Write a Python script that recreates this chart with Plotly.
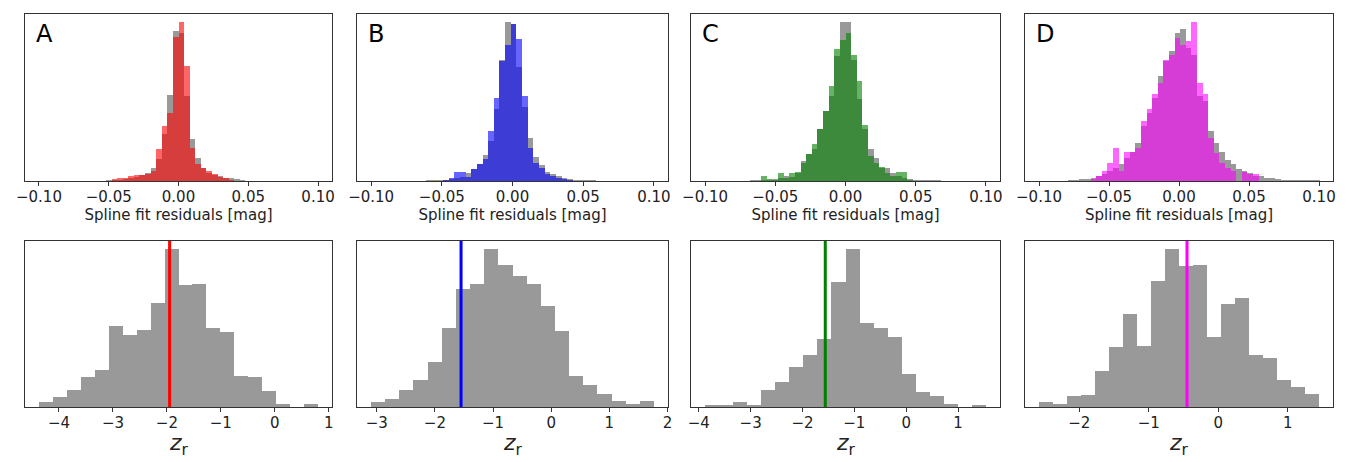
import numpy as np
import plotly.graph_objects as go

# panel letters and colours of each band
panels = ['A', 'B', 'C', 'D']
band_fill = ['rgba(255,0,0,0.6)', 'rgba(0,0,255,0.6)', 'rgba(0,128,0,0.6)', 'rgba(255,0,255,0.6)']
line_colors = ['#ff0000', '#0000ff', '#008000', '#ff00ff']
grey_fill = 'rgba(128,128,128,0.8)'

# spline fit residual histograms (bin width 0.004 mag), left edge of first bin
res_width = 0.004
res_start = [-0.052, -0.0612, -0.068, -0.0792]

res_grey_A = [2, 3, 4, 6, 10, 12, 18, 25, 40, 65, 140, 258, 452, 445, 255, 127, 70, 40, 25, 18, 14, 10, 8, 5, 3]
res_band_A = [0, 5, 10, 8, 15, 17, 18, 20, 30, 95, 165, 205, 432, 478, 345, 100, 50, 40, 30, 20, 12, 8, 3, 0, 0]

res_grey_B = [2, 3, 3, 4, 6, 10, 12, 25, 37, 52, 78, 120, 215, 362, 475, 470, 340, 220, 128, 72, 48, 28, 22, 15, 10, 6, 4, 3, 3, 2]
res_band_B = [0, 0, 0, 3, 10, 28, 28, 12, 37, 50, 65, 148, 248, 358, 405, 468, 423, 255, 100, 55, 40, 20, 15, 10, 5, 2, 0, 0, 0, 0]

res_grey_C = [2, 3, 3, 4, 5, 8, 15, 12, 25, 60, 80, 95, 155, 210, 255, 372, 475, 475, 360, 245, 155, 95, 70, 40, 40, 23, 15, 10, 6, 4, 3, 3, 2, 2]
res_band_C = [0, 0, 15, 5, 3, 25, 10, 25, 27, 55, 80, 110, 155, 208, 285, 395, 420, 442, 375, 298, 168, 75, 55, 42, 23, 15, 27, 27, 2, 0, 0, 0, 0, 0]

res_grey_D = [2, 3, 5, 7, 10, 15, 20, 30, 40, 50, 70, 87, 115, 165, 205, 250, 315, 360, 392, 445, 458, 400, 380, 255, 240,
              150, 115, 87, 62, 50, 37, 30, 23, 15, 15, 10, 8, 6, 4, 3, 3, 2, 2, 2, 2, 1, 1]
res_band_D = [0, 0, 0, 0, 5, 15, 30, 55, 100, 30, 87, 87, 100, 180, 215, 262, 295, 365, 380, 430, 410, 420, 478, 295, 262,
              130, 85, 55, 40, 30, 0, 28, 22, 20, 0, 0, 0, 0, 0, 0, 0, 0, 0, 0, 0, 0, 0]

res_grey = [res_grey_A, res_grey_B, res_grey_C, res_grey_D]
res_band = [res_band_A, res_band_B, res_band_C, res_band_D]
res_ticks = [-0.10, -0.05, 0.00, 0.05, 0.10]

# z_r histograms (20 bins each)
zr_start = [-4.37, -3.10, -3.88, -2.58]
zr_width = [0.2585, 0.2435, 0.271, 0.2015]
zr_counts_A = [15, 30, 50, 90, 110, 242, 217, 232, 312, 475, 367, 370, 237, 224, 94, 90, 48, 10, 0, 10]
zr_counts_B = [15, 25, 50, 80, 134, 237, 354, 370, 475, 427, 394, 370, 304, 227, 94, 65, 39, 17, 10, 17]
zr_counts_C = [5, 5, 15, 5, 52, 75, 119, 157, 204, 375, 475, 252, 237, 209, 99, 44, 34, 10, 0, 5]
zr_counts_D = [15, 9, 32, 37, 109, 180, 279, 184, 379, 475, 424, 427, 209, 309, 329, 157, 147, 82, 60, 39]
zr_counts = [zr_counts_A, zr_counts_B, zr_counts_C, zr_counts_D]
zr_marker = [-1.95, -1.55, -1.56, -0.45]
zr_range = [[-4.63, 1.06], [-3.34, 2.01], [-4.15, 1.81], [-2.78, 1.65]]

W, H = 1346, 462
col_px = [(17, 324), (349, 660), (683, 992), (1017, 1325)]
top_px = (6, 173)
bot_px = (233, 399)


def centers(start, width, n):
    return start + width * (np.arange(n) + 0.5)


def ax(k):
    return '' if k == 1 else str(k)


fig = go.Figure()
font = dict(family='DejaVu Sans', color='#222222')
layout = {}
frame = dict(showline=True, mirror=True, linecolor='#333333', linewidth=1.2,
             showgrid=False, zeroline=False)

for i, p in enumerate(panels):
    xt, yt = ax(i + 1), ax(i + 1)
    xb, yb = ax(i + 5), ax(i + 5)
    # top: residuals
    n = len(res_grey[i])
    xc = centers(res_start[i], res_width, n)
    fig.add_trace(go.Bar(x=xc, y=res_grey[i], width=res_width, marker=dict(color=grey_fill, line=dict(width=0)),
                         xaxis=f'x{xt}', yaxis=f'y{yt}', showlegend=False))
    fig.add_trace(go.Bar(x=xc, y=res_band[i], width=res_width, marker=dict(color=band_fill[i], line=dict(width=0)),
                         xaxis=f'x{xt}', yaxis=f'y{yt}', showlegend=False))
    ymax = max(max(res_grey[i]), max(res_band[i])) * 1.05
    # bottom: z_r
    m = len(zr_counts[i])
    zc = centers(zr_start[i], zr_width[i], m)
    fig.add_trace(go.Bar(x=zc, y=zr_counts[i], width=zr_width[i], marker=dict(color=grey_fill, line=dict(width=0)),
                         xaxis=f'x{xb}', yaxis=f'y{yb}', showlegend=False))
    fig.add_shape(type='line', xref=f'x{xb}', yref=f'y{yb} domain', x0=zr_marker[i], x1=zr_marker[i], y0=0, y1=1,
                  line=dict(color=line_colors[i], width=3))

    dom = [col_px[i][0] / W, col_px[i][1] / W]
    layout[f'xaxis{xt}'] = dict(domain=dom, anchor=f'y{yt}', range=[-0.11, 0.11], tickvals=res_ticks,
                                tickformat='.2f', ticks='outside', ticklen=4, tickcolor='#333333',
                                ticklabelstandoff=-2,
                                tickfont=dict(size=15, **font), automargin=False,
                                title=dict(text='Spline fit residuals [mag]', font=dict(size=15, **font), standoff=2),
                                **frame)
    layout[f'yaxis{yt}'] = dict(domain=[1 - top_px[1] / H, 1 - top_px[0] / H], anchor=f'x{xt}',
                                range=[0, ymax], showticklabels=False, ticks='', **frame)
    layout[f'xaxis{xb}'] = dict(domain=dom, anchor=f'y{yb}', range=zr_range[i], dtick=1,
                                ticks='outside', ticklen=4, tickcolor='#333333',
                                ticklabelstandoff=-2,
                                tickfont=dict(size=15, **font), automargin=False, **frame)
    layout[f'yaxis{yb}'] = dict(domain=[1 - bot_px[1] / H, 1 - bot_px[0] / H], anchor=f'x{xb}',
                                range=[0, max(zr_counts[i]) * 1.05], showticklabels=False, ticks='', **frame)
    fig.add_annotation(text=p, xref=f'x{xt} domain', yref=f'y{yt} domain', x=0.03, y=0.88,
                       xanchor='left', yanchor='middle', showarrow=False, font=dict(size=24, family='DejaVu Sans', color='black'))
    # z_r axis label
    fig.add_annotation(text='<i>z</i><sub>r</sub>', xref=f'x{xb} domain', yref='paper', x=0.5, y=1 - 436 / H,
                       xanchor='center', yanchor='middle', showarrow=False, font=dict(size=22, **font))

fig.update_layout(**layout)
fig.update_layout(width=W, height=H, margin=dict(l=0, r=0, t=0, b=0), barmode='overlay', bargap=0,
                  plot_bgcolor='white', paper_bgcolor='white', showlegend=False)
fig.write_html('out.html')
